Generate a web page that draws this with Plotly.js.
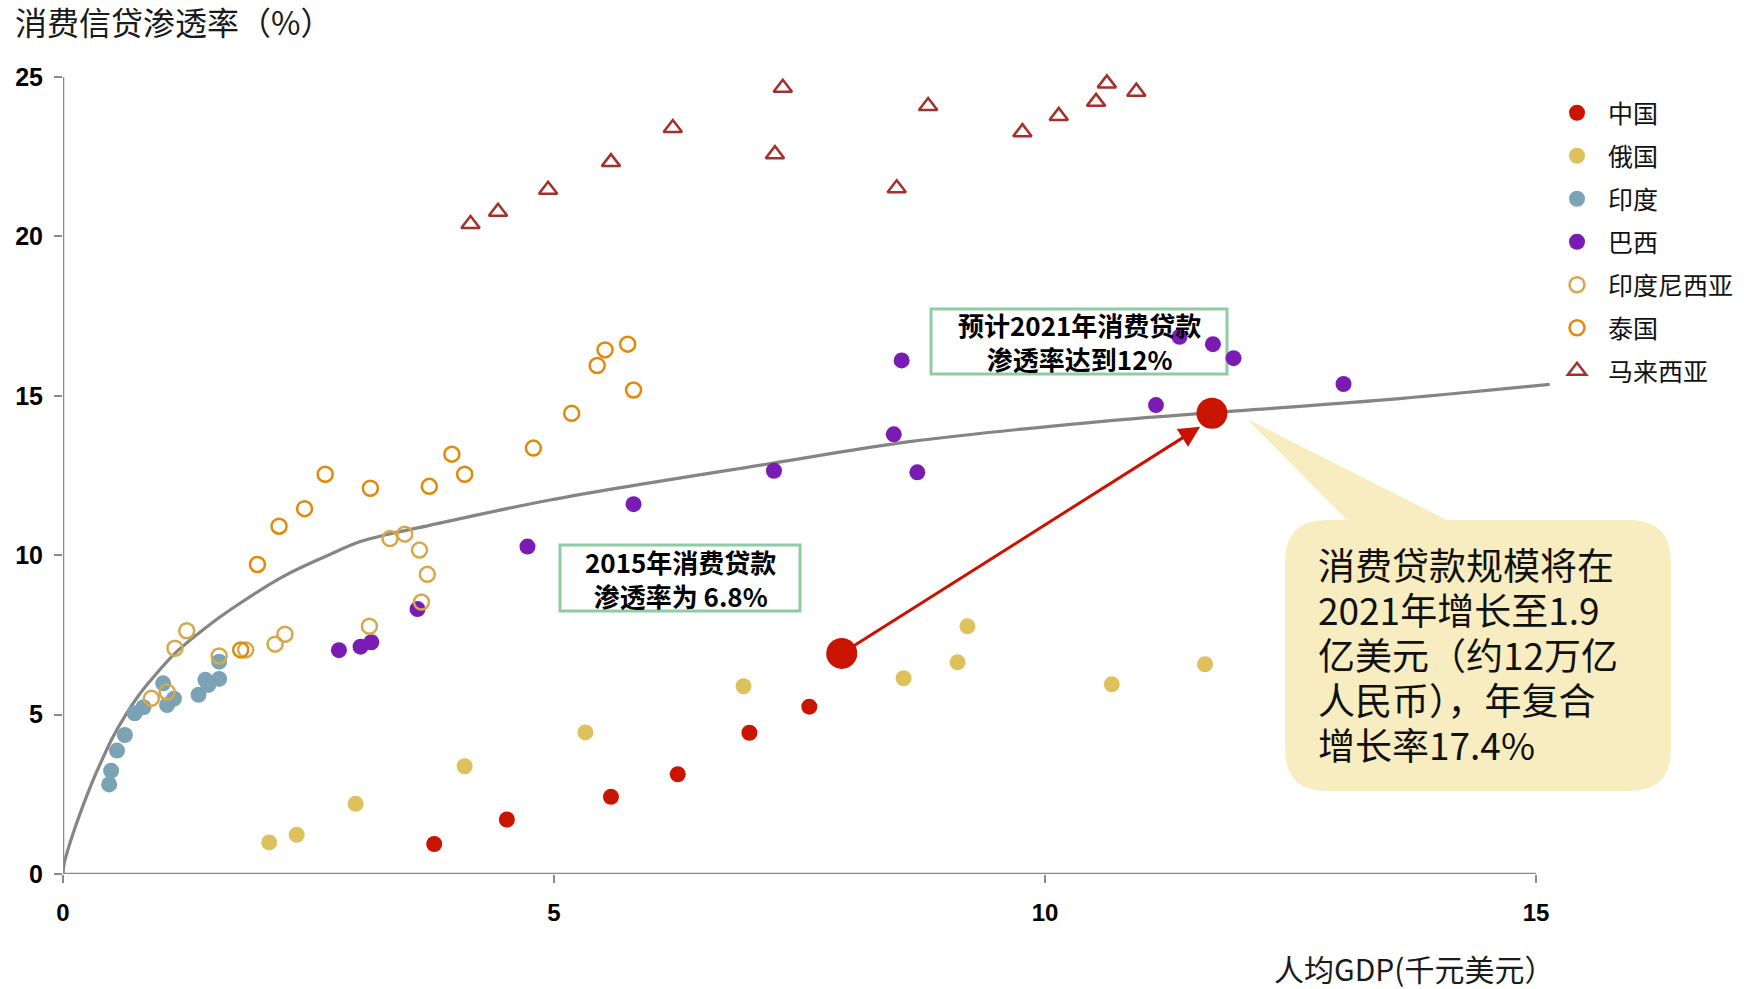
<!DOCTYPE html>
<html>
<head>
<meta charset="utf-8">
<script src="https://cdn.plot.ly/plotly-3.0.1.min.js"></script>
<style>html,body{margin:0;padding:0;background:#fff;overflow:hidden;}#chart{width:1744px;height:989px;}</style>
</head>
<body>
<div id="chart"></div>
<script>
// ---- data (人均GDP 千美元, 消费信贷渗透率 %) ----
const seriesNames = ['中国','俄国','印度','巴西','印度尼西亚','泰国','马来西亚'];

const chinaX = [3.78, 4.52, 5.58, 6.26, 6.99, 7.60];
const chinaY = [0.94, 1.71, 2.42, 3.13, 4.43, 5.25];

const russiaX = [2.10, 2.38, 2.98, 4.09, 5.32, 6.93, 8.56, 9.11, 9.21, 10.68, 11.63];
const russiaY = [0.99, 1.23, 2.20, 3.38, 4.44, 5.89, 6.14, 6.64, 7.77, 5.95, 6.58];

const indiaX = [0.47, 0.49, 0.55, 0.63, 0.73, 0.82, 1.02, 1.06, 1.13, 1.38, 1.45, 1.48, 1.59, 1.59];
const indiaY = [2.81, 3.24, 3.87, 4.36, 5.04, 5.23, 5.98, 5.30, 5.50, 5.62, 6.09, 5.93, 6.12, 6.66];

const brazilX = [2.81, 3.03, 3.14, 3.61, 4.73, 5.81, 7.24, 8.46, 8.54, 8.70, 11.13, 11.37, 11.71, 11.92, 13.04];
const brazilY = [7.02, 7.13, 7.27, 8.31, 10.27, 11.60, 12.65, 13.79, 16.11, 12.60, 14.71, 16.85, 16.62, 16.18, 15.37];

const indonesiaX = [0.90, 1.06, 1.14, 1.26, 1.59, 1.86, 2.16, 2.26, 3.12, 3.33, 3.48, 3.63, 3.71, 3.65];
const indonesiaY = [5.51, 5.71, 7.08, 7.63, 6.84, 7.03, 7.21, 7.52, 7.77, 10.52, 10.66, 10.16, 9.40, 8.53];

const thailandX = [1.81, 1.98, 2.20, 2.46, 2.67, 3.13, 3.73, 3.96, 4.09, 4.79, 5.18, 5.44, 5.52, 5.75, 5.81];
const thailandY = [7.03, 9.71, 10.91, 11.46, 12.54, 12.10, 12.16, 13.17, 12.54, 13.36, 14.45, 15.95, 16.44, 16.62, 15.18];

const malaysiaX = [4.15, 4.43, 4.94, 5.58, 6.21, 7.25, 7.33, 8.49, 8.81, 9.77, 10.14, 10.52, 10.63, 10.93];
const malaysiaY = [20.39, 20.77, 21.46, 22.33, 23.40, 22.58, 24.66, 21.51, 24.09, 23.27, 23.78, 24.22, 24.80, 24.54];

// China 2015 actual and 2021 projection
const keyX = [7.93, 11.70];
const keyY = [6.92, 14.45];

// fitted trend curve
const curveX = [0, 0.01, 0.04, 0.10, 0.18, 0.30, 0.43, 0.50, 0.64, 0.77, 0.90, 1.15, 1.45, 1.70, 2.24, 2.70, 3.02, 3.30, 3.60, 4.96, 7.22, 8.62, 10.56, 11.71, 13.45, 15.14];
const curveY = [0, 0.30, 0.66, 1.25, 1.95, 2.90, 3.80, 4.25, 5.00, 5.60, 6.10, 6.95, 7.72, 8.28, 9.33, 10.00, 10.42, 10.65, 10.85, 11.73, 12.88, 13.56, 14.19, 14.47, 14.87, 15.36];

const xTicks = [0, 5, 10, 15];
const yTicks = [0, 5, 10, 15, 20, 25];

const yTitle = '消费信贷渗透率（%）';
const xTitle = '人均GDP(千元美元）';
const note2021 = '<b>预计2021年消费贷款<br>渗透率达到12%</b>';
const note2015 = '<b>2015年消费贷款<br>渗透率为 6.8%</b>';
const bubbleLines = ['消费贷款规模将在', '2021年增长至1.9', '亿美元（约12万亿', '人民币），年复合', '增长率17.4%'];

// ---- layout geometry ----
const W = 1744, H = 989;
const L = 63, R = 183, T = 77, B = 115;
const PW = W - L - R, PH = H - T - B;
function xp(px) { return (px - L) / PW; }
function yp(py) { return (H - B - py) / PH; }

const CJK = '"Noto Sans CJK SC", "Noto Sans", sans-serif';
const NUM = '"Liberation Sans Narrow", "Liberation Sans", Arial, sans-serif';

const cRed = '#c91400', cGold = '#dcc15c', cBlue = '#7ba3b5', cPurple = '#7a1bb3',
      cIndo = '#d6a84e', cThai = '#e0890a', cMal = '#a3302a', cGray = '#858585';

function pt(x, y) { return xp(x).toFixed(5) + ',' + yp(y).toFixed(5); }
function bubblePath() {
  const l = 1285, t = 520, r = 1671, b = 791, rad = 42, p1 = 1347, p2 = 1447, ax = 1247, ay = 419;
  return 'M' + pt(l + rad, t) + ' L' + pt(p1, t) + ' L' + pt(ax, ay) + ' L' + pt(p2, t) +
    ' L' + pt(r - rad, t) + ' Q' + pt(r, t) + ' ' + pt(r, t + rad) +
    ' L' + pt(r, b - rad) + ' Q' + pt(r, b) + ' ' + pt(r - rad, b) +
    ' L' + pt(l + rad, b) + ' Q' + pt(l, b) + ' ' + pt(l, b - rad) +
    ' L' + pt(l, t + rad) + ' Q' + pt(l, t) + ' ' + pt(l + rad, t) + ' Z';
}

function filled(name, xs, ys, color, group) {
  return { type: 'scatter', mode: 'markers', name: name, x: xs, y: ys, legendgroup: group,
    cliponaxis: false, hoverinfo: 'x+y+name',
    marker: { color: color, size: 16, line: { width: 0 } } };
}
function open(name, xs, ys, color, symbol, size, group) {
  return { type: 'scatter', mode: 'markers', name: name, x: xs, y: ys, legendgroup: group,
    cliponaxis: false, hoverinfo: 'x+y+name',
    marker: { symbol: symbol, color: color, size: size, line: { color: color, width: 2.5 } } };
}

const traces = [
  { type: 'scatter', mode: 'lines', x: curveX, y: curveY, showlegend: false, hoverinfo: 'skip',
    line: { color: cGray, width: 3.2, shape: 'spline', smoothing: 1.0 } },
  filled(seriesNames[0], chinaX, chinaY, cRed, 'g1'),
  filled(seriesNames[1], russiaX, russiaY, cGold, 'g2'),
  filled(seriesNames[2], indiaX, indiaY, cBlue, 'g3'),
  filled(seriesNames[3], brazilX, brazilY, cPurple, 'g4'),
  open(seriesNames[4], indonesiaX, indonesiaY, cIndo, 'circle-open', 15, 'g5'),
  open(seriesNames[5], thailandX, thailandY, cThai, 'circle-open', 15, 'g6'),
  open(seriesNames[6], malaysiaX, malaysiaY, cMal, 'triangle-up-open', 16, 'g7'),
  { type: 'scatter', mode: 'markers', x: keyX, y: keyY, showlegend: false, cliponaxis: false,
    marker: { color: cRed, size: 31 } }
];

const axisColor = '#8a8a8a';
const bubbleY = [564, 609, 654, 699, 744];
const annotations = [
  { xref: 'paper', yref: 'paper', x: xp(13), y: yp(21), xanchor: 'left', yanchor: 'middle',
    text: yTitle, showarrow: false, font: { family: CJK, size: 32, color: '#1a1a1a' } },
  { xref: 'paper', yref: 'paper', x: xp(1556), y: yp(968), xanchor: 'right', yanchor: 'middle',
    text: xTitle, showarrow: false, font: { family: CJK, size: 30, color: '#1a1a1a' } },
  { xref: 'paper', yref: 'paper', x: xp(1079), y: yp(342), xanchor: 'center', yanchor: 'middle',
    text: note2021, showarrow: false, align: 'center', font: { family: CJK, size: 26, color: '#000' } },
  { xref: 'paper', yref: 'paper', x: xp(680), y: yp(578), xanchor: 'center', yanchor: 'middle',
    text: note2015, showarrow: false, align: 'center', font: { family: CJK, size: 26, color: '#000' } },
  { xref: 'x', yref: 'y', axref: 'x', ayref: 'y', x: 11.58, y: 14.03, ax: keyX[0], ay: keyY[0],
    text: '', showarrow: true, arrowhead: 2, arrowsize: 1.4, arrowwidth: 3, arrowcolor: '#cc1100',
    standoff: 0, startstandoff: 0 }
];
bubbleLines.forEach(function (line, i) {
  annotations.push({ xref: 'paper', yref: 'paper', x: xp(1316), y: yp(bubbleY[i]), xanchor: 'left', yanchor: 'middle',
    text: line, showarrow: false, align: 'left', font: { family: CJK, size: 37, color: '#111' } });
});

const layout = {
  width: W, height: H,
  margin: { l: L, r: R, t: T, b: B, pad: 0, autoexpand: false },
  paper_bgcolor: '#ffffff', plot_bgcolor: '#ffffff',
  showlegend: true,
  legend: {
    x: xp(1546), y: yp(90), xanchor: 'left', yanchor: 'top',
    font: { family: CJK, size: 25, color: '#111' },
    itemwidth: 52, tracegroupgap: 7.5, bgcolor: 'rgba(0,0,0,0)', borderwidth: 0,
    traceorder: 'grouped'
  },
  xaxis: {
    range: [0, 15 * PW / (1536 - L)], tickvals: xTicks, ticktext: xTicks.map(String),
    showgrid: false, zeroline: false, showline: false,
    ticks: 'outside', ticklen: 8, tickwidth: 2, tickcolor: axisColor,
    tickfont: { family: NUM, size: 24, color: '#000', weight: 'bold' },
    ticklabelstandoff: 9, fixedrange: true, automargin: false
  },
  yaxis: {
    range: [0, 25], tickvals: yTicks, ticktext: yTicks.map(String),
    showgrid: false, zeroline: false, showline: false,
    ticks: 'outside', ticklen: 8, tickwidth: 2, tickcolor: axisColor,
    tickfont: { family: NUM, size: 25, color: '#000', weight: 'bold' },
    ticklabelstandoff: 6, fixedrange: true, automargin: false
  },
  shapes: [
    { type: 'line', xref: 'x', yref: 'y', x0: 0, x1: 15, y0: 0, y1: 0, line: { color: axisColor, width: 2.5 }, layer: 'above' },
    { type: 'line', xref: 'x', yref: 'y', x0: 0, x1: 0, y0: 0, y1: 25, line: { color: axisColor, width: 2.5 }, layer: 'above' },
    { type: 'rect', xref: 'paper', yref: 'paper', x0: xp(931), x1: xp(1227), y0: yp(374), y1: yp(309),
      line: { color: '#8fcba3', width: 3 }, fillcolor: '#ffffff', layer: 'below' },
    { type: 'rect', xref: 'paper', yref: 'paper', x0: xp(560), x1: xp(800), y0: yp(611), y1: yp(545),
      line: { color: '#8fcba3', width: 3 }, fillcolor: '#ffffff', layer: 'below' },
    { type: 'path', xref: 'paper', yref: 'paper', path: bubblePath(),
      fillcolor: '#f8edc0', line: { width: 0 }, layer: 'below' }
  ],
  annotations: annotations
};

Plotly.newPlot('chart', traces, layout, { staticPlot: true, displayModeBar: false });
</script>
</body>
</html>
